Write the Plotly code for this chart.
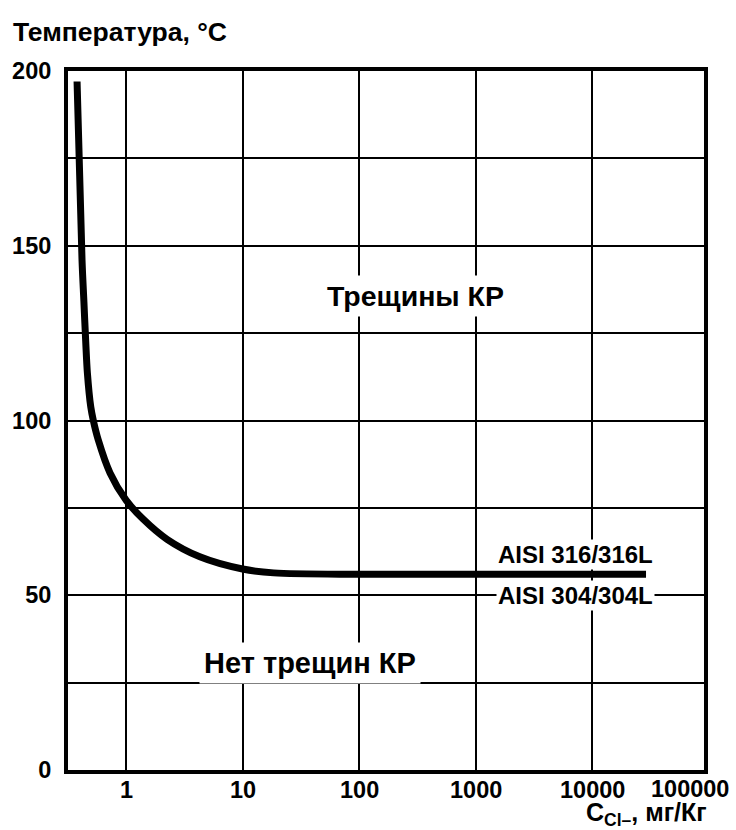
import math
import plotly.graph_objects as go

# Curve: chloride concentration (mg/kg) vs temperature (°C)
conc = [0.38, 0.419, 0.435, 0.451, 0.466, 0.498, 0.524, 0.578, 0.729, 1.0, 1.4, 2.25, 4.3, 10, 18.5, 100, 1000, 29000]
temp = [197, 146, 134, 122.5, 113.6, 103.9, 100, 94.4, 85, 77.2, 71.8, 66.0, 61.0, 57.5, 56.4, 56, 56, 56]

x_ticks = [1, 10, 100, 1000, 10000]
x_tick_labels = ["1", "10", "100", "1000", "10000"]
x_last_label = "100000"
y_ticks = [0, 50, 100, 150, 200]
y_tick_labels = ["0", "50", "100", "150", "200"]
y_grid_step = 25

FONT = "Liberation Sans, Arial, sans-serif"

fig = go.Figure()
fig.add_trace(go.Scatter(
    x=conc, y=temp, mode="lines",
    line=dict(color="black", width=7, shape="spline", smoothing=0.9),
    hoverinfo="skip", showlegend=False,
))

fig.update_xaxes(
    type="log", range=[-0.498, 4.96],
    tickvals=x_ticks, showticklabels=False,
    showgrid=True, gridcolor="black", gridwidth=2,
    showline=True, linecolor="black", linewidth=4, mirror=True,
    ticks="", zeroline=False,
)
fig.update_yaxes(
    range=[0, 200],
    tickvals=y_ticks, ticktext=y_tick_labels,
    showgrid=True, gridcolor="black", gridwidth=2,
    minor=dict(dtick=y_grid_step, showgrid=True, gridcolor="black", gridwidth=2, ticks=""),
    showline=True, linecolor="black", linewidth=4, mirror=True,
    ticks="", ticklabelstandoff=8,
    tickfont=dict(family=FONT, size=23.5, color="black", weight="bold"),
    zeroline=False,
)

bold = lambda s: dict(family=FONT, size=s, color="black", weight="bold")

annotations = [
    dict(x=2.48, y=135.6, xref="x", yref="y", text="Трещины КР", showarrow=False,
         font=bold(28.5), bgcolor="white", borderpad=4),
    dict(x=1.58, y=30.6, xref="x", yref="y", text="Нет трещин КР", showarrow=False,
         font=bold(29), bgcolor="white", borderpad=4),
    dict(x=3.854, y=61.8, xref="x", yref="y", text="AISI 316/316L", showarrow=False,
         font=bold(24), bgcolor="white", borderpad=1),
    dict(x=3.854, y=50.0, xref="x", yref="y", text="AISI 304/304L", showarrow=False,
         font=bold(24), bgcolor="white", borderpad=1),
    dict(x=0, y=1, xref="paper", yref="paper", text="Температура, °C", showarrow=False,
         font=bold(26.5), xanchor="left", yanchor="middle", xshift=-57, yshift=39),
    dict(x=1, y=0, xref="paper", yref="paper", text="C<sub>Cl–</sub>, мг/Кг", showarrow=False,
         font=bold(25), xanchor="right", yanchor="top", xshift=5, yshift=-26),
]

# x tick labels placed on the log axis
for v, t in zip(x_ticks, x_tick_labels):
    annotations.append(dict(x=math.log10(v), y=0, xref="x", yref="y", text=t, showarrow=False,
                            font=bold(23.5), yanchor="top", yshift=-5))
annotations.append(dict(x=4.84, y=0, xref="x", yref="y", text=x_last_label, showarrow=False,
                        font=bold(23.5), yanchor="top", yshift=-4))

fig.update_layout(
    width=736, height=830,
    margin=dict(l=68, r=32, t=71, b=60),
    paper_bgcolor="white", plot_bgcolor="white",
    annotations=annotations,
    showlegend=False,
)

fig.write_html("out.html")
